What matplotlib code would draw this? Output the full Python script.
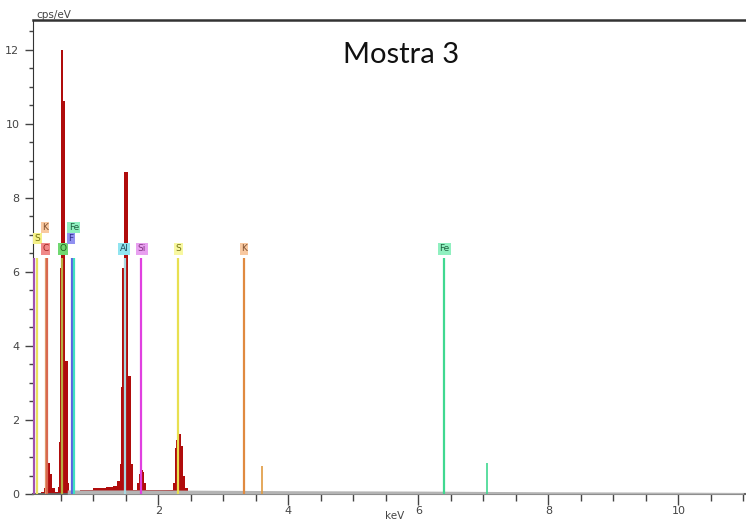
import matplotlib
matplotlib.use('Agg')
import matplotlib.pyplot as plt
from matplotlib.ticker import MultipleLocator

# measured spectrum, step breakpoints (keV, cps/eV)
spec_kev = [0.08, 0.20, 0.24, 0.265, 0.31, 0.34, 0.37, 0.41, 0.45, 0.475, 0.49, 0.505, 0.535, 0.56,
            0.605, 0.63, 0.80, 1.00, 1.20, 1.30, 1.37, 1.405, 1.42, 1.445, 1.47, 1.54, 1.58, 1.61,
            1.68, 1.70, 1.72, 1.76, 1.78, 1.81, 2.22, 2.25, 2.28, 2.30, 2.345, 2.375, 2.41, 2.45, 3.40]
spec_cps = [0.03, 0.05, 0.15, 1.05, 0.85, 0.55, 0.15, 0.05, 0.2, 1.4, 6.1, 12.0, 10.6, 3.6,
            0.3, 0.09, 0.12, 0.15, 0.18, 0.22, 0.35, 0.8, 2.9, 6.1, 8.7, 3.2, 0.8, 0.12,
            0.3, 0.55, 0.65, 0.6, 0.3, 0.1, 0.3, 1.25, 1.45, 1.62, 1.3, 0.5, 0.15, 0.05, 0.02]

# grey continuum
bg_kev = [0.60, 2.0, 4.0, 6.0, 8.0, 10.0, 11.0]
bg_cps = [0.11, 0.11, 0.09, 0.08, 0.06, 0.05, 0.04]

# element marker lines
lines_kev = [0.09, 0.14, 0.27, 0.285, 0.525, 0.677, 0.71, 1.486, 1.74, 2.308, 3.313, 6.40]
lines_col = ['#a050b0', '#e8e060', '#e0a070', '#d86850', '#b8b040', '#5a64e0', '#40e0c0',
             '#a8d8e0', '#e040e0', '#e8e050', '#e08a40', '#40d890']
line_top = 6.37

# small beta lines
beta_kev = [3.59, 7.06]
beta_cps = [0.75, 0.85]
beta_col = ['#e09a40', '#40d890']

# labels: text, keV, height, face colour, text colour
lab_txt = ['S', 'K', 'C', 'O', 'F', 'Fe', 'Al', 'Si', 'S', 'K', 'Fe']
lab_kev = [0.14, 0.26, 0.27, 0.535, 0.66, 0.70, 1.47, 1.75, 2.31, 3.32, 6.40]
lab_y = [6.9, 7.2, 6.62, 6.62, 6.9, 7.2, 6.62, 6.62, 6.62, 6.62, 6.62]
lab_face = ['#f4f088', '#f8c8a0', '#f08888', '#70d870', '#9090f0', '#90f0c0', '#90e4f0',
            '#e8a0f0', '#f8f8a0', '#f8c8a0', '#90f0c0']
lab_fg = ['#707010', '#805030', '#a02020', '#206020', '#303090', '#206040', '#205060',
          '#803080', '#707010', '#805030', '#206040']

fig = plt.figure(figsize=(7.46, 5.22), dpi=100)
ax = fig.add_axes([0.0446, 0.0536, 0.9554, 0.9081])

ax.fill_between(spec_kev, spec_cps, step='post', color='#b00c0c', lw=0, zorder=2)
ax.fill_between(bg_kev, bg_cps, color='#b4b4b4', lw=0, zorder=3)

for k, c in zip(lines_kev, lines_col):
    ax.vlines(k, 0, line_top, color=c, lw=1.6, zorder=4)
for k, h, c in zip(beta_kev, beta_cps, beta_col):
    ax.vlines(k, 0, h, color=c, lw=1.2, zorder=4)

for t, k, y, f, fg in zip(lab_txt, lab_kev, lab_y, lab_face, lab_fg):
    ax.text(k, y, t, ha='center', va='center', fontsize=6.5, color=fg, zorder=5,
            bbox=dict(boxstyle='square,pad=0.15', fc=f, ec='none'))

ax.text(5.73, 11.85, 'Mostra 3', ha='center', va='center', fontsize=21,
        family=['Lato', 'DejaVu Sans'], color='#111111')

ax.set_xlim(0.077, 11.04)
ax.set_ylim(0, 12.8)
ax.xaxis.set_major_locator(MultipleLocator(2))
ax.xaxis.set_minor_locator(MultipleLocator(0.5))
ax.yaxis.set_major_locator(MultipleLocator(2))
ax.yaxis.set_minor_locator(MultipleLocator(0.5))
ax.tick_params(which='both', direction='out', colors='#444444', labelsize=8, width=1)
ax.tick_params(axis='y', which='major', length=6, pad=4)
ax.tick_params(axis='y', which='minor', length=3)
ax.tick_params(axis='x', which='major', length=8, pad=0.5)
ax.tick_params(axis='x', which='minor', length=5)
ax.spines['right'].set_visible(False)
ax.spines['top'].set_color('#333333')
ax.spines['top'].set_linewidth(1.8)
ax.spines['left'].set_color('#333333')
ax.spines['bottom'].set_color('#666666')
ax.spines['bottom'].set_linewidth(1.5)

fig.text(36 / 746, 1 - 15 / 522, 'cps/eV', ha='left', va='center', fontsize=7.5, color='#444444')
fig.text(395 / 746, 1 - 516 / 522, 'keV', ha='center', va='center', fontsize=7.5, color='#444444')

fig.savefig('out.png', dpi=100)
